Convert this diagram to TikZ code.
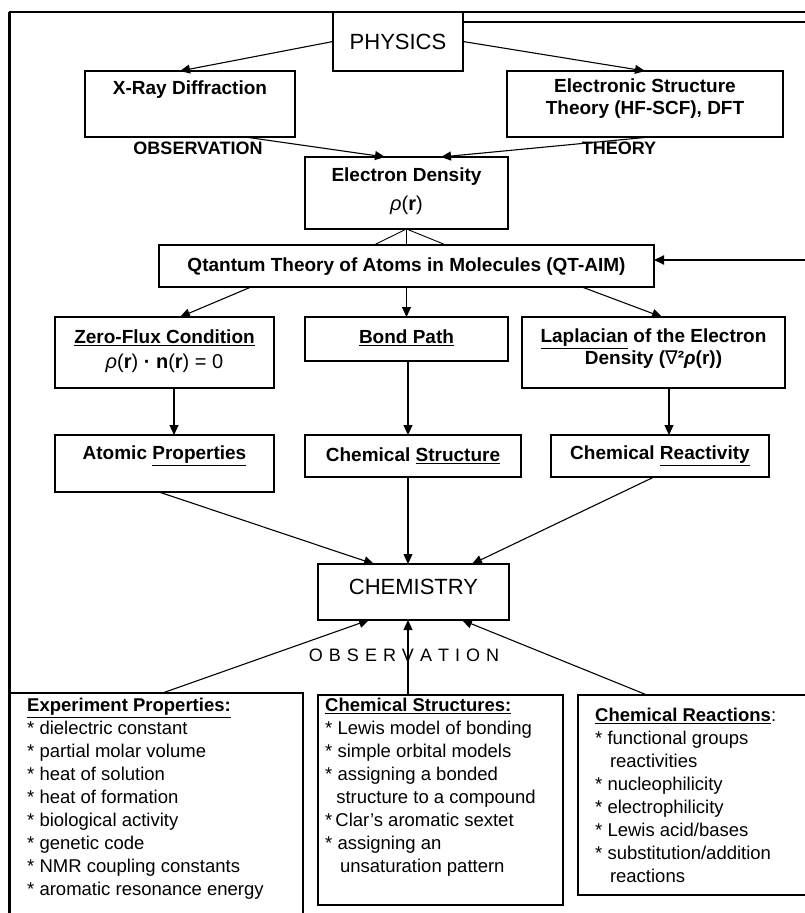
\documentclass[tikz,border=0pt]{standalone}
\usepackage{fontspec}
\setmainfont{Liberation Sans}
\newfontfamily\dejavu{DejaVu Sans}
\usetikzlibrary{arrows.meta}
\begin{document}
\begin{tikzpicture}[x=1pt,y=-1pt,
  box/.style={draw, line width=1.3pt, inner sep=0pt, outer sep=0pt},
  lbl/.style={inner sep=0pt, font=\bfseries\fontsize{19}{22}\selectfont, align=center},
  big/.style={inner sep=0pt, font=\fontsize{22}{26}\selectfont},
  obs/.style={inner sep=0pt, font=\bfseries\fontsize{18}{20}\selectfont},
  frm/.style={inner sep=0pt, font=\fontsize{20}{24}\selectfont},
  con/.style={line width=1.1pt},
  arr/.style={con, -{Triangle[length=10pt,width=9pt]}},
  lst/.style={inner sep=0pt, anchor=north west, align=left, font=\fontsize{18.5}{23}\selectfont},
]
\useasboundingbox (0,0) rectangle (804,913);
\fill[white] (0,0) rectangle (804,913);

% outer frame
\coordinate (ftl) at (9,12);
\coordinate (ftr) at (806,12);
\coordinate (fbl) at (9,915);
\draw[line width=1.3pt] (ftl) -- (ftr);
\draw[line width=3pt] (ftl) -- (fbl);

% boxes
\node[box, minimum width=130pt, minimum height=59pt] (phys) at (398,41.5) {};
\node[big] (physt) at (398,42) {PHYSICS};

\node[box, minimum width=210pt, minimum height=66pt] (xray) at (190,104) {};
\node[lbl] (xrayt) at (190,90) {X-Ray Diffraction};

\node[box, minimum width=276pt, minimum height=66pt] (est) at (645,104) {};
\node[lbl] (estt) at (645,99) {Electronic Structure\\Theory (HF-SCF), DFT};

\node[obs] (obs1) at (198,148) {OBSERVATION};
\node[obs] (theo) at (619,148) {THEORY};

\node[box, minimum width=203pt, minimum height=72pt] (ed) at (406.5,193) {};
\node[lbl] (edt) at (406.5,177) {Electron Density};
\node[frm] (edr) at (406.5,205) {\textit{ρ}(\textbf{r})};

\node[box, minimum width=495pt, minimum height=42pt] (qt) at (406.5,266) {};
\node[lbl] (qtt) at (406.5,267) {Qtantum Theory of Atoms in Molecules (QT-AIM)};

\node[box, minimum width=219pt, minimum height=71pt] (zf) at (164.5,352.5) {};
\node[lbl] (zft) at (164.5,338) {\underline{Zero-Flux Condition}};
\node[frm] (zff) at (164.5,363) {\textit{ρ}(\textbf{r}) \textbf{·} \textbf{n}(\textbf{r}) = 0};

\node[box, minimum width=203pt, minimum height=44pt] (bp) at (406.5,339) {};
\node[lbl] (bpt) at (406.5,338) {\underline{Bond Path}};

\node[box, minimum width=263pt, minimum height=71pt] (lap) at (653.5,352.5) {};
\node[lbl] (lapt) at (653.5,349) {\underline{Laplacian} of the Electron\\Density ({\mdseries\dejavu ∇}²\textit{ρ}(r))};

\node[box, minimum width=219pt, minimum height=57pt] (ap) at (164.5,463.5) {};
\node[lbl] (apt) at (164.5,456) {Atomic \underline{Properties}};

\node[box, minimum width=216pt, minimum height=42pt] (cs) at (413,456) {};
\node[lbl] (cst) at (413,456) {Chemical \underline{Structure}};

\node[box, minimum width=218pt, minimum height=42pt] (cr) at (660,456) {};
\node[lbl] (crt) at (660,456) {Chemical \underline{Reactivity}};

\node[box, minimum width=191pt, minimum height=56pt] (chem) at (413.5,592) {};
\node[big] (chemt) at (413.5,587) {CHEMISTRY};

\node[inner sep=0pt, font=\fontsize{18}{20}\selectfont] (obs2) at (404,655)
  {O\hspace{6pt}B\hspace{6pt}S\hspace{6pt}E\hspace{6pt}R\hspace{6pt}V\hspace{6pt}A\hspace{6pt}T\hspace{6pt}I\hspace{6pt}O\hspace{6pt}N};

\node[box, minimum width=294pt, minimum height=225pt] (exp) at (156,805.5) {};
\node[lst] (expt) at (27,698) {\textbf{\underline{Experiment Properties:}}\\
{*} dielectric constant\\
{*} partial molar volume\\
{*} heat of solution\\
{*} heat of formation\\
{*} biological activity\\
{*} genetic code\\
{*} NMR coupling constants\\
{*} aromatic resonance energy};

\node[box, minimum width=245pt, minimum height=210pt] (css) at (440.5,800) {};
\node[lst] (csst) at (325,698) {\textbf{\underline{Chemical Structures:}}\\
{*} Lewis model of bonding\\
{*} simple orbital models\\
{*} assigning a bonded\\
\hspace*{0.6em}structure to a compound\\
{*}\,Clar's aromatic sextet\\
{*} assigning an\\
\hspace*{0.8em}unsaturation pattern};

\node[box, minimum width=230pt, minimum height=200pt] (crx) at (693,795) {};
\node[lst] (crxt) at (595,708) {\textbf{\underline{Chemical Reactions}}:\\
{*} functional groups\\
\hspace*{0.8em}reactivities\\
{*} nucleophilicity\\
{*} electrophilicity\\
{*} Lewis acid/bases\\
{*} substitution/addition\\
\hspace*{0.8em}reactions};

% feedback line from PHYSICS to QT-AIM (runs along the cut right edge)
\coordinate (fbA) at (806,22);
\coordinate (fbB) at (806,260);
\draw[con] (phys.east |- fbA) -- (fbA);
\draw[arr, line width=1.8pt] (fbB) -- (fbB -| qt.east);

% connectors
\draw[arr] (phys.west) -- ([xshift=-10pt]xray.north);
\draw[arr] (phys.east) -- (est.north);
\draw[arr] ([xshift=55pt]xray.south) -- ([xshift=-21.5pt]ed.north);
\draw[arr] ([xshift=5pt]est.south) -- ([xshift=34.5pt]ed.north);

\draw[con, line width=0.9pt] (ed.south) -- ([xshift=-32.5pt]qt.north);
\draw[con, line width=0.9pt] (ed.south) -- (qt.north);
\draw[con, line width=0.9pt] (ed.south) -- ([xshift=39.5pt]qt.north);

\draw[arr] ([xshift=-155.5pt]qt.south) -- ([xshift=15.5pt]zf.north);
\draw[arr] (qt.south) -- (bp.north);
\draw[arr] ([xshift=175.5pt]qt.south) -- ([xshift=8.5pt]lap.north);

\draw[arr] ([xshift=9.5pt]zf.south) -- ([xshift=9.5pt]ap.north);
\draw[arr] ([xshift=1.5pt]bp.south) -- ([xshift=1.5pt]bp.south |- cs.north);
\draw[arr] ([xshift=15.5pt]lap.south) -- ([xshift=15.5pt]lap.south |- cr.north);

\draw[arr] ([xshift=-5.5pt]ap.south) -- ([xshift=-39.5pt]chem.north);
\draw[arr] ([xshift=-5pt]cs.south) -- ([xshift=-5pt]cs.south |- chem.north);
\draw[arr] ([xshift=-6pt]cr.south) -- ([xshift=58.5pt]chem.north);

\draw[arr] ([xshift=6.5pt]exp.north) -- ([xshift=-44.5pt]chem.south);
\draw[arr] ([xshift=-32.5pt]css.north) -- ([xshift=-32.5pt]css.north |- chem.south);
\draw[arr] ([xshift=-46pt]crx.north) -- ([xshift=48.5pt]chem.south);
\end{tikzpicture}
\end{document}
